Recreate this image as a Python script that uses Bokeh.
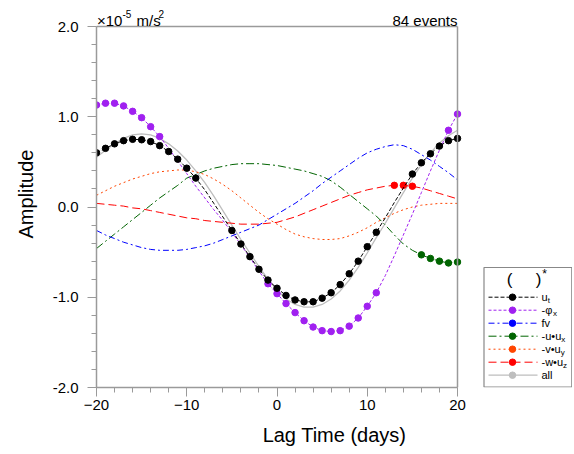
from bokeh.plotting import figure
from bokeh.models import FixedTicker, PrintfTickFormatter
from bokeh.embed import file_html
from bokeh.resources import INLINE
from bokeh.core.properties import value

# ---------------- data ----------------
lags = list(range(-20, 21))

u_t = [0.60, 0.65, 0.70, 0.735, 0.75, 0.745, 0.725, 0.68, 0.615, 0.53, 0.43, 0.32,
       0.19, 0.04, -0.11, -0.26, -0.41, -0.55, -0.69, -0.81,
       -0.90, -0.98, -1.03, -1.05, -1.05, -1.01, -0.95, -0.86, -0.74, -0.60, -0.44,
       -0.28, -0.12, 0.05, 0.21, 0.365, 0.49, 0.59, 0.675, 0.735, 0.76]
phi_x = [1.13, 1.15, 1.15, 1.12, 1.06, 0.99, 0.89, 0.78,
         0.65, 0.51, 0.37, 0.23, 0.10, -0.03, -0.15, -0.28, -0.42, -0.56, -0.71, -0.85,
         -0.96, -1.07, -1.17, -1.26, -1.33, -1.37, -1.38, -1.37, -1.32, -1.23, -1.10, -0.95,
         -0.76, -0.54, -0.31, -0.08, 0.16, 0.40, 0.63, 0.85, 1.03]
fv = [-0.26, -0.31, -0.35, -0.39, -0.42, -0.45, -0.47, -0.48, -0.48, -0.48, -0.47, -0.45,
      -0.43, -0.40, -0.36, -0.32, -0.28, -0.24, -0.20, -0.14,
      -0.08, -0.02, 0.04, 0.11, 0.18, 0.26, 0.33, 0.40, 0.47, 0.54, 0.60,
      0.64, 0.67, 0.69, 0.68, 0.64, 0.58, 0.52, 0.45, 0.38, 0.30]
uux = [-0.46, -0.38, -0.30, -0.22, -0.14, -0.06, 0.02, 0.10, 0.17, 0.24, 0.32, 0.36,
       0.40, 0.43, 0.45, 0.47, 0.48, 0.48, 0.48, 0.47,
       0.46, 0.44, 0.42, 0.40, 0.37, 0.34, 0.29, 0.22, 0.14, 0.06, -0.02,
       -0.10, -0.20, -0.31, -0.41, -0.48, -0.53, -0.57, -0.60, -0.62, -0.61]
vuy = [0.13, 0.18, 0.23, 0.27, 0.31, 0.34, 0.37, 0.39, 0.40, 0.41, 0.41, 0.39,
       0.36, 0.31, 0.25, 0.18, 0.10, 0.02, -0.06, -0.13,
       -0.19, -0.25, -0.30, -0.33, -0.35, -0.36, -0.36, -0.35, -0.32, -0.28, -0.23,
       -0.17, -0.12, -0.07, -0.03, 0.00, 0.02, 0.03, 0.04, 0.04, 0.04]
wuz = [0.04, 0.03, 0.02, 0.01, -0.01, -0.02, -0.04, -0.06, -0.08, -0.10, -0.12, -0.13,
       -0.15, -0.16, -0.17, -0.18, -0.19, -0.19, -0.19, -0.18,
       -0.17, -0.14, -0.11, -0.07, -0.03, 0.01, 0.05, 0.09, 0.13, 0.16, 0.19,
       0.21, 0.23, 0.24, 0.24, 0.23, 0.21, 0.18, 0.15, 0.12, 0.09]
all_terms = [0.55, 0.63, 0.70, 0.76, 0.80, 0.81, 0.80, 0.76, 0.70, 0.62, 0.52, 0.40,
             0.27, 0.12, -0.04, -0.20, -0.36, -0.51, -0.66, -0.80,
             -0.92, -1.02, -1.08, -1.11, -1.11, -1.08, -1.02, -0.93, -0.81, -0.67, -0.51,
             -0.34, -0.18, -0.01, 0.16, 0.32, 0.47, 0.60, 0.71, 0.79, 0.85]

# lags at which a term is significant (drawn with dots)
u_t_sig = [l for l in lags if l not in (-8, -7, -6, 12, 13, 14)]
phi_x_sig = list(range(-20, -12)) + list(range(-1, 12)) + [19, 20]
fv_sig = []
uux_sig = [16, 17, 18, 19, 20]
vuy_sig = []
wuz_sig = [13, 14, 15]
all_sig = []

legend_base = ["u", "-\u03c6", "fv", "-u\u2022u", "-v\u2022u", "-w\u2022u", "all"]
legend_sub = ["t", "x", "", "x", "y", "z", ""]

x_ticks = [-20, -10, 0, 10, 20]
y_ticks = [-2.0, -1.0, 0.0, 1.0, 2.0]
events_text = "84 events"

FONT = "Liberation Sans"
GRAY = "#9A9A9A"

# ---------------- geometry (pixels -> data helpers) ----------------
LEFT_PX, TOP_PX = 96, 0    # frame position on the page
FW, FH = 476, 387          # frame size in px (plot area + legend area)
KX = 361 / 40.0            # px per day
KY = 361 / 4.0             # px per amplitude unit
X0 = -20.0
X1 = X0 + FW / KX
Y0 = -2.0
Y1 = Y0 + FH / KY


def dx(page_x):
    return X0 + (page_x - LEFT_PX) / KX


def dy(page_y):
    return Y1 - (page_y - TOP_PX) / KY


series = [
    (all_terms, all_sig, "#BEBEBE", "solid", 1.3),
    (wuz, wuz_sig, "#FF0000", "8 4", 1.0),
    (vuy, vuy_sig, "#FF4500", "2 3", 1.0),
    (uux, uux_sig, "#006400", "8 3 2 3", 1.0),
    (fv, fv_sig, "#0000FF", "6 3 2 3", 1.0),
    (phi_x, phi_x_sig, "#A020F0", "3 2", 1.0),
    (u_t, u_t_sig, "#000000", "4 2", 1.0),
]

# ---------------- main plot ----------------
p = figure(frame_width=FW, frame_height=FH, x_range=(X0, X1), y_range=(Y0, Y1),
           output_backend="svg", toolbar_location=None,
           min_border_left=LEFT_PX, min_border_top=TOP_PX, min_border_bottom=64,
           min_border_right=0)
p.grid.visible = False
p.outline_line_color = None

for ys, sig, col, dash, lw in series:
    p.line(lags, ys, line_color=col, line_dash=dash, line_width=lw)
    if sig:
        sy = [ys[lags.index(l)] for l in sig]
        p.scatter(sig, sy, size=6.5, marker="circle", fill_color=col, line_color=col)

# top and right frame lines of the plot box
p.line([x_ticks[0], x_ticks[-1]], [y_ticks[-1], y_ticks[-1]], line_color=GRAY, line_width=1.5)
p.line([x_ticks[-1], x_ticks[-1]], [y_ticks[0], y_ticks[-1]], line_color=GRAY, line_width=1.5)

p.xaxis.ticker = FixedTicker(ticks=x_ticks, minor_ticks=list(range(-20, 21, 2)))
p.yaxis.ticker = FixedTicker(ticks=y_ticks, minor_ticks=[i / 5 for i in range(-10, 11)])
p.xaxis.bounds = (x_ticks[0], x_ticks[-1])
p.yaxis.bounds = (y_ticks[0], y_ticks[-1])
p.yaxis.formatter = PrintfTickFormatter(format="%.1f")
for ax in (p.xaxis[0], p.yaxis[0]):
    ax.axis_line_color = GRAY
    ax.axis_line_width = 1.5
    ax.major_tick_line_color = GRAY
    ax.minor_tick_line_color = GRAY
    ax.major_tick_out = 9
    ax.major_tick_in = 0
    ax.minor_tick_out = 5
    ax.minor_tick_in = 0
    ax.major_label_text_font = FONT
    ax.major_label_text_font_size = "15px"
    ax.major_label_text_color = "black"
    ax.axis_label_text_font = FONT
    ax.axis_label_text_font_size = "20px"
    ax.axis_label_text_font_style = "normal"
    ax.axis_label_text_color = "black"
p.xaxis.axis_label = "Lag Time (days)"
p.yaxis.axis_label = "Amplitude"
p.xaxis.major_label_standoff = 3
p.xaxis.axis_label_standoff = 11
p.yaxis.major_label_standoff = 9
p.yaxis.axis_label_standoff = 13


def txt(xs, ys, texts, size, align="left", baseline="alphabetic"):
    p.text(x=xs, y=ys, text=texts, text_font=value(FONT), text_font_size=size,
           text_align=align, text_baseline=baseline, text_color="black")


# units and event count above the plot box
txt([dx(96.5)], [dy(19.5)], ["\u00d710"], "15px")
txt([dx(122)], [dy(13)], ["-5"], "10px")
txt([dx(136)], [dy(19.5)], ["m/s"], "15px")
txt([dx(158)], [dy(13)], ["2"], "10px")
txt([dx(457)], [dy(19.5)], [events_text], "15px", align="right")

# ---------------- legend box ----------------
SHIFT = -6
box_l, box_r, box_t, box_b = 483.5, 571.3, 273 + SHIFT, 392.5 + SHIFT
p.quad(left=[dx(box_l)], right=[dx(box_r)], top=[dy(box_t)], bottom=[dy(box_b)],
       fill_color="white", line_color="#888888", line_width=1.2)

entry_py = [302.7 + SHIFT + 13 * i for i in range(7)]
legend_order = [series[6], series[5], series[4], series[3], series[2], series[1], series[0]]
for (ys, sig, col, dash, lw), ey in zip(legend_order, entry_py):
    p.line([dx(488), dx(537)], [dy(ey), dy(ey)], line_color=col, line_dash=dash, line_width=lw)
    p.scatter([dx(512)], [dy(ey)], size=6.5, marker="circle", fill_color=col, line_color=col)

txt([dx(541)] * 7, [dy(e) for e in entry_py], legend_base, "11px", baseline="middle")
sub_px = [547.3, 552.5, 0, 560.8, 560.3, 562.6, 0]
sx, sy, st = [], [], []
for xx, yy, s in zip(sub_px, entry_py, legend_sub):
    if s:
        sx.append(dx(xx))
        sy.append(dy(yy + 3))
        st.append(s)
txt(sx, sy, st, "8px", baseline="middle")
txt([dx(509), dx(538)], [dy(285 + SHIFT)] * 2, ["(", ")"], "17px", align="center", baseline="middle")
txt([dx(544)], [dy(279 + SHIFT)], ["*"], "12px", align="center", baseline="middle")

open("out.html", "w").write(file_html(p, INLINE))
